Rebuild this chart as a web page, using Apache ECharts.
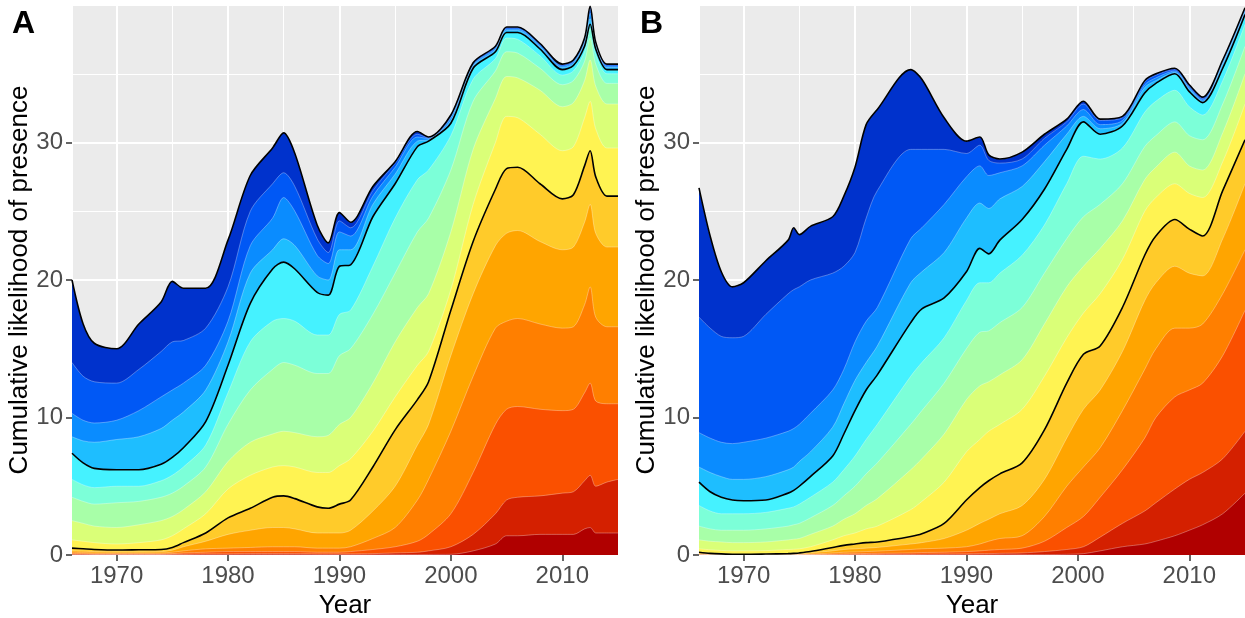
<!DOCTYPE html>
<html>
<head>
<meta charset="utf-8">
<script src="https://cdn.jsdelivr.net/npm/echarts@6/dist/echarts.min.js"></script>
<style>
  html, body { margin: 0; padding: 0; background: #fff; }
  #chart { width: 1245px; height: 618px; }
</style>
</head>
<body>
<div id="chart"></div>
<script>
// ---- panel A: cumulative level of each layer boundary ----
const yearsA = [1966, 1967, 1968, 1970, 1972, 1974, 1975, 1976, 1978, 1980,
  1982, 1984, 1985, 1986, 1988, 1989, 1990, 1991, 1993, 1995,
  1997, 1998, 2000, 2002, 2004, 2005, 2006, 2008, 2010, 2011,
  2012, 2012.5, 2013, 2014, 2015]
const topA = [20.0, 16.8, 15.4, 15.0, 16.8, 18.4, 19.9, 19.4, 19.4, 22.9, 27.6, 29.6, 30.7, 29.2, 24.0, 22.7, 24.9, 24.2, 26.8, 28.6, 30.8, 30.4, 32.0, 35.8, 37.0, 38.4, 38.4, 37.2, 35.7, 36.0, 37.6, 39.9, 37.3, 35.7, 35.7]
const blueA = [14.0, 13.0, 12.6, 12.5, 13.5, 14.8, 15.5, 15.6, 16.5, 19.5, 25.0, 27.0, 27.8, 26.8, 23.0, 22.0, 24.3, 23.8, 26.5, 28.5, 30.6, 30.35, 31.9, 35.75, 36.95, 38.35, 38.35, 37.15, 35.65, 35.95, 37.5, 39.7, 37.2, 35.65, 35.65]
const azureA = [10.3, 9.8, 9.6, 9.8, 10.5, 11.5, 12.0, 12.5, 13.8, 17.0, 22.5, 24.5, 26.0, 25.0, 21.8, 21.2, 23.5, 23.2, 26.1, 28.2, 30.4, 30.3, 31.8, 35.65, 36.85, 38.25, 38.25, 37.05, 35.55, 35.85, 37.35, 39.4, 37.1, 35.55, 35.55]
const skyA = [8.6, 8.3, 8.2, 8.4, 8.6, 9.2, 9.8, 10.4, 12.0, 15.5, 20.5, 22.2, 23.0, 22.5, 20.3, 20.0, 22.2, 22.2, 25.5, 27.7, 30.1, 30.2, 31.6, 35.55, 36.75, 38.15, 38.15, 36.95, 35.45, 35.75, 37.2, 39.0, 37.0, 35.45, 35.45]
const midA = [7.4, 6.7, 6.3, 6.2, 6.2, 6.6, 7.1, 7.8, 9.7, 13.8, 18.3, 20.8, 21.3, 20.8, 19.1, 18.9, 21.0, 21.1, 24.6, 27.0, 29.7, 30.1, 31.4, 35.4, 36.6, 38.0, 38.0, 36.8, 35.3, 35.6, 37.0, 38.6, 36.8, 35.3, 35.3]
const cyanA = [5.5, 5.1, 4.9, 5.0, 5.0, 5.4, 5.8, 6.4, 8.0, 11.8, 15.5, 17.0, 17.2, 17.0, 16.0, 16.0, 17.5, 17.8, 21.0, 24.5, 27.3, 28.0, 30.5, 34.6, 36.1, 37.6, 37.5, 36.3, 34.9, 35.2, 36.6, 38.3, 36.4, 35.0, 35.0]
const aquaA = [4.2, 3.9, 3.7, 3.8, 3.9, 4.2, 4.5, 5.0, 6.4, 9.5, 12.0, 13.5, 14.0, 13.8, 13.2, 13.2, 14.5, 15.0, 17.5, 20.5, 23.5, 24.5, 28.0, 33.0, 35.2, 36.6, 36.5, 35.4, 34.2, 34.5, 35.9, 37.6, 35.7, 34.3, 34.3]
const lgreenA = [2.5, 2.3, 2.1, 2.0, 2.2, 2.5, 2.8, 3.3, 4.6, 6.8, 8.2, 8.8, 9.0, 8.9, 8.6, 8.7, 9.5, 10.0, 12.5, 15.5, 18.0, 19.0, 23.5, 29.5, 33.2, 34.8, 34.7, 33.8, 32.6, 32.9, 34.5, 36.0, 34.1, 32.8, 32.8]
const ygreenA = [1.1, 1.0, 0.9, 0.8, 0.9, 1.1, 1.4, 1.9, 3.0, 4.8, 5.8, 6.4, 6.5, 6.4, 6.0, 6.0, 6.5, 7.0, 9.0, 11.5, 13.8, 14.8, 19.3, 25.5, 30.0, 31.9, 31.8, 30.6, 29.4, 29.7, 31.8, 33.0, 31.0, 29.6, 29.6]
const lowA = [0.5, 0.45, 0.4, 0.36, 0.38, 0.4, 0.55, 0.9, 1.6, 2.7, 3.4, 4.2, 4.3, 4.1, 3.5, 3.4, 3.7, 4.0, 6.4, 9.1, 11.3, 12.6, 17.8, 22.8, 26.6, 28.1, 28.2, 27.0, 25.9, 26.2, 28.3, 29.4, 27.5, 26.1, 26.1]
const goldA = [0.3, 0.28, 0.25, 0.22, 0.22, 0.25, 0.35, 0.6, 1.0, 1.5, 1.8, 2.0, 2.0, 1.9, 1.6, 1.6, 1.6, 1.8, 3.2, 5.0, 8.0, 9.5, 14.5, 19.0, 22.5, 23.4, 23.6, 22.8, 22.2, 22.4, 24.2, 25.5, 23.4, 22.4, 22.4]
const orangeA = [0.2, 0.18, 0.15, 0.14, 0.14, 0.15, 0.2, 0.3, 0.45, 0.5, 0.55, 0.6, 0.6, 0.6, 0.5, 0.5, 0.5, 0.6, 1.2, 2.0, 4.0, 5.5, 9.0, 13.0, 16.5, 17.0, 17.2, 16.8, 16.5, 16.6, 18.2, 19.5, 17.3, 16.6, 16.6]
const dorangeA = [0.1, 0.1, 0.08, 0.08, 0.08, 0.08, 0.1, 0.15, 0.2, 0.25, 0.25, 0.25, 0.25, 0.25, 0.2, 0.2, 0.2, 0.25, 0.4, 0.6, 1.0, 1.5, 3.0, 6.0, 9.5, 10.6, 10.8, 10.6, 10.5, 10.6, 11.8, 12.5, 11.2, 11.0, 11.0]
const oredA = [0.05, 0.05, 0.04, 0.04, 0.04, 0.04, 0.05, 0.06, 0.08, 0.08, 0.1, 0.1, 0.1, 0.1, 0.08, 0.08, 0.08, 0.08, 0.1, 0.15, 0.2, 0.3, 0.6, 1.5, 3.0, 4.0, 4.2, 4.3, 4.5, 4.6, 5.4, 5.8, 5.0, 5.3, 5.5]
const redA = [0.02, 0.02, 0.02, 0.02, 0.02, 0.02, 0.02, 0.02, 0.02, 0.02, 0.03, 0.03, 0.03, 0.03, 0.02, 0.02, 0.02, 0.02, 0.02, 0.03, 0.03, 0.04, 0.05, 0.3, 0.8, 1.4, 1.4, 1.5, 1.5, 1.5, 1.9, 2.0, 1.6, 1.6, 1.6]

// ---- panel B ----
const yearsB = [1966, 1967, 1968, 1969, 1970, 1972, 1974, 1974.5, 1975, 1976,
  1978, 1979, 1980, 1981, 1982, 1985, 1986, 1988, 1990, 1991.2,
  1992, 1993, 1995, 1997, 1999, 2000.5, 2002, 2004, 2006, 2007,
  2008.7, 2010, 2011.2, 2013, 2015]
const topB = [26.7, 23.2, 20.6, 19.5, 19.8, 21.4, 22.9, 23.8, 23.3, 23.9, 24.6, 26.1, 28.2, 31.3, 32.4, 35.3, 34.6, 31.8, 30.1, 30.4, 29.1, 28.8, 29.3, 30.6, 31.7, 33.0, 31.7, 31.9, 34.5, 35.0, 35.4, 34.2, 33.3, 36.0, 39.8]
const blueB = [17.3, 16.5, 15.9, 15.8, 15.9, 17.5, 19.0, 19.3, 19.5, 20.0, 20.5, 21.0, 22.0, 24.5, 26.5, 29.5, 29.5, 29.5, 29.2, 29.8, 28.7, 28.5, 28.8, 30.3, 31.5, 32.8, 31.6, 31.8, 34.4, 34.9, 35.3, 34.1, 33.2, 35.9, 39.7]
const azureB = [8.9, 8.5, 8.2, 8.1, 8.2, 8.5, 9.0, 9.2, 9.5, 10.3, 12.0, 13.5, 15.5, 17.0, 18.0, 23.0, 23.8, 25.5, 27.5, 28.3, 27.6, 27.8, 28.3, 29.8, 31.2, 32.4, 31.3, 31.6, 34.2, 34.7, 35.2, 34.0, 33.1, 35.8, 39.6]
const skyB = [6.4, 6.0, 5.7, 5.5, 5.5, 5.7, 6.2, 6.4, 6.8, 7.5, 9.3, 11.0, 12.7, 14.0, 15.2, 19.8, 20.6, 22.0, 24.5, 25.6, 25.2, 25.9, 26.8, 28.6, 30.6, 31.9, 31.0, 31.4, 34.0, 34.5, 35.1, 33.9, 33.0, 35.7, 39.5]
const midB = [5.3, 4.6, 4.2, 4.0, 3.95, 4.0, 4.5, 4.7, 5.0, 5.7, 7.2, 8.8, 10.5, 12.0, 13.1, 16.9, 17.9, 18.7, 20.6, 22.3, 21.9, 22.9, 24.4, 26.6, 29.5, 31.5, 30.6, 31.2, 33.6, 34.3, 35.0, 33.7, 32.9, 35.4, 39.3]
const cyanB = [3.6, 3.2, 3.0, 3.0, 3.0, 3.1, 3.4, 3.5, 3.7, 4.2, 5.3, 6.2, 7.2, 8.4, 9.5, 13.0, 14.0, 15.8, 18.5, 19.8, 19.8, 20.5, 21.8, 24.0, 27.0, 29.0, 28.8, 29.6, 32.2, 33.0, 33.8, 32.6, 32.0, 34.5, 38.6]
const aquaB = [2.1, 1.9, 1.8, 1.8, 1.8, 1.9, 2.1, 2.2, 2.3, 2.7, 3.6, 4.3, 5.0, 5.9, 6.7, 9.5, 10.5, 12.5, 15.0, 16.2, 16.3, 16.9, 18.0, 20.5, 23.0, 24.6, 25.5, 27.0, 29.7, 30.5, 31.5, 30.5, 30.2, 32.8, 37.0]
const lgreenB = [1.1, 1.0, 0.95, 0.9, 0.9, 0.95, 1.1, 1.15, 1.2, 1.5, 2.1, 2.6, 3.0, 3.6, 4.1, 6.2, 7.0, 8.8, 11.3, 12.3, 12.6, 13.1, 14.2, 16.8, 19.5, 21.0, 22.3, 24.3, 27.3, 28.2, 29.3, 28.3, 28.0, 30.7, 35.0]
const ygreenB = [0.45, 0.38, 0.33, 0.3, 0.3, 0.32, 0.4, 0.42, 0.45, 0.6, 1.1, 1.4, 1.6, 1.9, 2.1, 3.3, 3.9, 5.3, 7.5, 8.4, 9.0, 9.5, 10.6, 13.0, 15.8, 17.6, 19.0, 21.5, 25.0, 26.0, 27.0, 26.3, 26.0, 28.6, 32.8]
const lowB = [0.2, 0.12, 0.08, 0.06, 0.05, 0.07, 0.1, 0.12, 0.15, 0.25, 0.55, 0.7, 0.8, 0.9, 0.95, 1.35, 1.55, 2.3, 4.0, 4.9, 5.4, 5.9, 6.7, 9.1, 12.5, 14.6, 15.2, 18.0, 21.8, 23.2, 24.4, 23.7, 23.2, 26.5, 30.2]
const goldB = [0.12, 0.08, 0.05, 0.04, 0.03, 0.04, 0.06, 0.07, 0.09, 0.15, 0.3, 0.4, 0.45, 0.5, 0.55, 0.8, 0.9, 1.2, 1.8, 2.3, 2.6, 3.0, 3.6, 5.5, 8.5, 10.6, 12.0, 14.8, 18.5, 19.8, 21.0, 20.5, 20.3, 23.0, 27.0]
const orangeB = [0.06, 0.04, 0.03, 0.02, 0.02, 0.02, 0.03, 0.03, 0.04, 0.07, 0.15, 0.2, 0.22, 0.25, 0.28, 0.4, 0.45, 0.5, 0.6, 0.8, 1.0, 1.2, 1.4, 2.8, 5.0, 6.4, 7.8, 10.5, 13.5, 15.0, 16.5, 16.5, 16.8, 19.0, 22.2]
const dorangeB = [0.03, 0.02, 0.02, 0.01, 0.01, 0.01, 0.02, 0.02, 0.02, 0.03, 0.06, 0.08, 0.1, 0.11, 0.12, 0.15, 0.18, 0.2, 0.25, 0.3, 0.35, 0.4, 0.5, 1.0, 2.0, 2.8, 4.2, 6.2, 8.5, 10.0, 11.5, 12.0, 12.5, 14.5, 17.8]
const oredB = [0.01, 0.01, 0.01, 0, 0, 0, 0.01, 0.01, 0.01, 0.01, 0.02, 0.03, 0.03, 0.04, 0.04, 0.05, 0.06, 0.07, 0.08, 0.1, 0.1, 0.12, 0.15, 0.25, 0.4, 0.6, 1.3, 2.3, 3.2, 3.8, 4.8, 5.5, 6.0, 7.0, 9.0]
const redB = [0, 0, 0, 0, 0, 0, 0, 0, 0, 0, 0, 0, 0, 0, 0, 0.01, 0.01, 0.02, 0.02, 0.02, 0.02, 0.02, 0.03, 0.03, 0.05, 0.1, 0.3, 0.6, 0.8, 1.0, 1.4, 1.8, 2.2, 3.0, 4.5]

// band colours, top layer first (jet-like ramp)
const bandColors = ['#0032CC', '#0058F5', '#0A8CFF', '#1EBEFF', '#45F2FF', '#7CFFD8', '#A8FFA8',
  '#DAFF78', '#FFF352', '#FFCB2A', '#FFA500', '#FF7F00', '#FA5000', '#D42000', '#B00000']

const xTicks = [1970, 1980, 1990, 2000, 2010]
const yTicks = [0, 10, 20, 30]

const chart = echarts.init(document.getElementById('chart'))

const pairs = (years, vals) => years.map((y, i) => [y, vals[i]])

const makePanel = (idx, years, bounds, blackLines) => {
  const list = []
  bounds.forEach((arr, k) => {
    list.push({
      type: 'line',
      xAxisIndex: idx,
      yAxisIndex: idx,
      data: pairs(years, arr),
      smooth: 0.3,
      symbol: 'none',
      silent: true,
      z: 2,
      lineStyle: { color: 'rgba(255,255,255,0.45)', width: 0.7 },
      areaStyle: { color: bandColors[k], opacity: 1 }
    })
  })
  blackLines.forEach((arr) => {
    list.push({
      type: 'line',
      xAxisIndex: idx,
      yAxisIndex: idx,
      data: pairs(years, arr),
      smooth: 0.3,
      symbol: 'none',
      silent: true,
      z: 4,
      lineStyle: { color: '#000000', width: 1.6 }
    })
  })
  return list
}

const font = "'Liberation Sans', Arial, sans-serif"

const makeX = (idx) => ({
  type: 'value',
  gridIndex: idx,
  min: 1966,
  max: 2015,
  splitNumber: 5,
  name: 'Year',
  nameLocation: 'middle',
  nameGap: 35,
  nameTextStyle: { color: '#000', fontSize: 26, fontFamily: font },
  axisLine: { show: false },
  axisTick: { show: true, length: 6, customValues: xTicks, lineStyle: { color: '#333', width: 1.5 } },
  axisLabel: {
    color: '#4D4D4D', fontSize: 24, fontFamily: font, margin: 9, customValues: xTicks,
    formatter: (v) => (v % 10 === 0 ? String(v) : '')
  },
  splitLine: { show: true, lineStyle: { color: '#ffffff', width: 2 } }
})

// hidden axis shifted by five years: its grid lines land on 1975, 1985, ...
const makeMinorX = (idx) => ({
  type: 'value',
  gridIndex: idx,
  min: 1961,
  max: 2010,
  splitNumber: 5,
  axisLine: { show: false },
  axisTick: { show: false },
  axisLabel: { show: false },
  splitLine: { show: true, lineStyle: { color: '#ffffff', width: 1 } }
})

const makeY = (idx) => ({
  type: 'value',
  gridIndex: idx,
  min: 0,
  max: 40,
  interval: 10,
  name: 'Cumulative likelihood of presence',
  nameLocation: 'middle',
  nameGap: 36,
  nameTextStyle: { color: '#000', fontSize: 26, fontFamily: font },
  axisLine: { show: false },
  axisTick: { show: true, length: 6, customValues: yTicks, lineStyle: { color: '#333', width: 1.5 } },
  axisLabel: {
    color: '#4D4D4D', fontSize: 24, fontFamily: font, margin: 9, customValues: yTicks,
    formatter: (v) => (v < 40 ? String(v) : '')
  },
  splitLine: { show: true, lineStyle: { color: '#ffffff', width: 2 } }
})

// hidden axis shifted by five units: grid lines at 5, 15, 25, 35
const makeMinorY = (idx) => ({
  type: 'value',
  gridIndex: idx,
  min: -5,
  max: 35,
  splitNumber: 4,
  axisLine: { show: false },
  axisTick: { show: false },
  axisLabel: { show: false },
  splitLine: { show: true, lineStyle: { color: '#ffffff', width: 1 } }
})

const option = {
  animation: false,
  backgroundColor: '#ffffff',
  grid: [
    { left: 72, top: 5, width: 546, height: 550, show: true, backgroundColor: '#EBEBEB', borderWidth: 0, outerBoundsMode: 'none', containLabel: false },
    { left: 699, top: 5, width: 546, height: 550, show: true, backgroundColor: '#EBEBEB', borderWidth: 0, outerBoundsMode: 'none', containLabel: false }
  ],
  xAxis: [makeX(0), makeX(1), makeMinorX(0), makeMinorX(1)],
  yAxis: [makeY(0), makeY(1), makeMinorY(0), makeMinorY(1)],
  graphic: [
    { type: 'text', left: 12, top: 8, z: 10, style: { text: 'A', font: 'bold 32px ' + font, fill: '#000' } },
    { type: 'text', left: 640, top: 8, z: 10, style: { text: 'B', font: 'bold 32px ' + font, fill: '#000' } }
  ],
  series: [
    ...makePanel(0, yearsA,
      [topA, blueA, azureA, skyA, midA, cyanA, aquaA, lgreenA, ygreenA, lowA, goldA, orangeA, dorangeA, oredA, redA],
      [topA, midA, lowA]),
    ...makePanel(1, yearsB,
      [topB, blueB, azureB, skyB, midB, cyanB, aquaB, lgreenB, ygreenB, lowB, goldB, orangeB, dorangeB, oredB, redB],
      [topB, midB, lowB])
  ]
}

chart.setOption(option)
</script>
</body>
</html>
